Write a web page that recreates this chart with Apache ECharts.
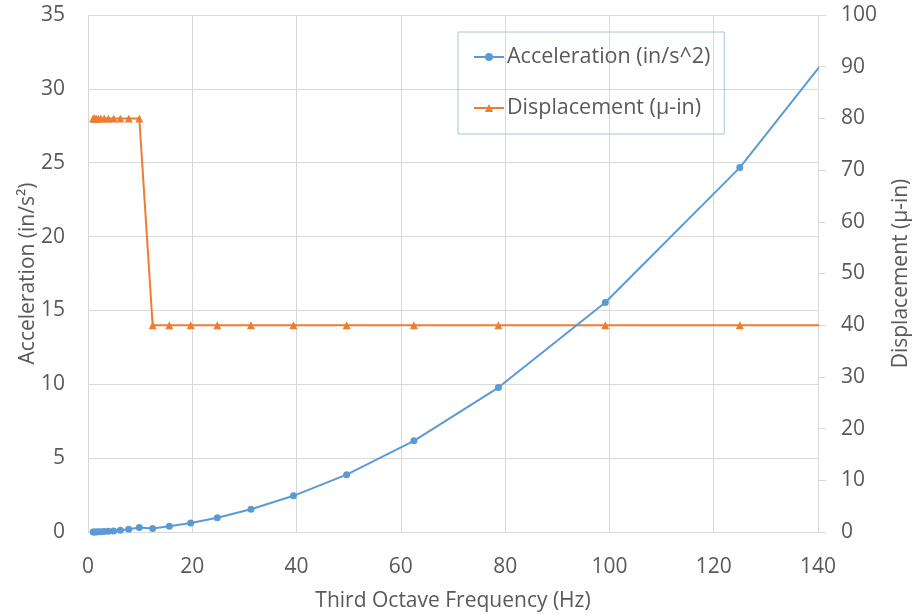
<!DOCTYPE html>
<html>
<head>
<meta charset="utf-8">
<script src="https://cdn.jsdelivr.net/npm/echarts@6/dist/echarts.min.js"></script>
<style>
  html, body { margin: 0; padding: 0; background: #fff; }
  #chart { width: 913px; height: 615px; }
</style>
</head>
<body>
<div id="chart"></div>
<script>
// Third-octave band centre frequencies (Hz)
const frequencies = [0.98, 1.23, 1.55, 1.95, 2.46, 3.1, 3.9, 4.92, 6.2, 7.81, 9.84,
  12.4, 15.6, 19.7, 24.8, 31.25, 39.4, 49.6, 62.5, 78.7, 99.2, 125, 157.5];

// Acceleration per band (in/s^2)
const acceleration = [0.003, 0.005, 0.008, 0.012, 0.019, 0.03, 0.048, 0.076, 0.121, 0.193, 0.306,
  0.243, 0.384, 0.613, 0.971, 1.54, 2.45, 3.88, 6.17, 9.78, 15.54, 24.67, 39.17];

// Displacement per band (micro-inches)
const displacement = [80, 80, 80, 80, 80, 80, 80, 80, 80, 80, 80,
  40, 40, 40, 40, 40, 40, 40, 40, 40, 40, 40, 40];

const xTicks = [0, 20, 40, 60, 80, 100, 120, 140];

const accPairs = frequencies.map((f, i) => [f, acceleration[i]]);
const dispPairs = frequencies.map((f, i) => [f, displacement[i]]);

const textColor = '#595959';
const gridColor = '#d9d9d9';
const font = 'Open Sans';

const chart = echarts.init(document.getElementById('chart'));
chart.setOption({
  animation: false,
  textStyle: { fontFamily: font },
  grid: { left: 88, right: 95, top: 15, bottom: 83, containLabel: false, outerBoundsMode: 'none' },
  legend: {
    orient: 'vertical',
    left: 458,
    top: 32,
    padding: [14, 14, 15, 15],
    itemGap: 29,
    itemWidth: 30,
    itemHeight: 10,
    borderColor: '#a8c3dc',
    borderWidth: 1,
    textStyle: { fontSize: 21.5, color: textColor, fontFamily: font, padding: [0, 0, 0, -2] },
    data: ['Acceleration (in/s^2)', 'Displacement (µ-in)']
  },
  xAxis: {
    type: 'value',
    min: xTicks[0],
    max: xTicks[xTicks.length - 1],
    interval: 20,
    name: 'Third Octave Frequency (Hz)',
    nameLocation: 'middle',
    nameGap: 59,
    nameTextStyle: { fontSize: 21, color: textColor },
    axisLine: { show: true, lineStyle: { color: gridColor, width: 1 } },
    axisTick: { show: false },
    axisLabel: { fontSize: 21, color: textColor, margin: 25 },
    splitLine: { show: true, lineStyle: { color: gridColor, width: 1 } }
  },
  yAxis: [
    {
      type: 'value',
      min: 0,
      max: 35,
      interval: 5,
      position: 'left',
      name: 'Acceleration (in/s²)',
      nameLocation: 'middle',
      nameRotate: 90,
      nameGap: 49,
      nameMoveOverlap: false,
      nameTextStyle: { fontSize: 21, color: textColor },
      axisLine: { show: false },
      axisTick: { show: false },
      axisLabel: { fontSize: 21, color: textColor, margin: 23 },
      splitLine: { show: true, lineStyle: { color: gridColor, width: 1 } }
    },
    {
      type: 'value',
      min: 0,
      max: 100,
      interval: 10,
      position: 'right',
      name: 'Displacement (µ-in)',
      nameLocation: 'middle',
      nameRotate: 90,
      nameGap: 73,
      nameTextStyle: { fontSize: 21, color: textColor },
      axisLine: { show: true, lineStyle: { color: gridColor, width: 1 } },
      axisTick: { show: true, inside: false, length: 8, lineStyle: { color: gridColor } },
      axisLabel: { fontSize: 21, color: textColor, margin: 23 },
      splitLine: { show: false }
    }
  ],
  series: [
    {
      name: 'Acceleration (in/s^2)',
      type: 'line',
      yAxisIndex: 0,
      data: accPairs,
      symbol: 'circle',
      symbolSize: 7,
      showAllSymbol: true,
      lineStyle: { color: '#5b9bd5', width: 2 },
      itemStyle: { color: '#5b9bd5' },
      z: 3
    },
    {
      name: 'Displacement (µ-in)',
      type: 'line',
      yAxisIndex: 1,
      data: dispPairs,
      symbol: 'triangle',
      symbolSize: 8,
      showAllSymbol: true,
      lineStyle: { color: '#ed7d31', width: 2 },
      itemStyle: { color: '#ed7d31' },
      z: 2
    }
  ]
});
</script>
</body>
</html>
